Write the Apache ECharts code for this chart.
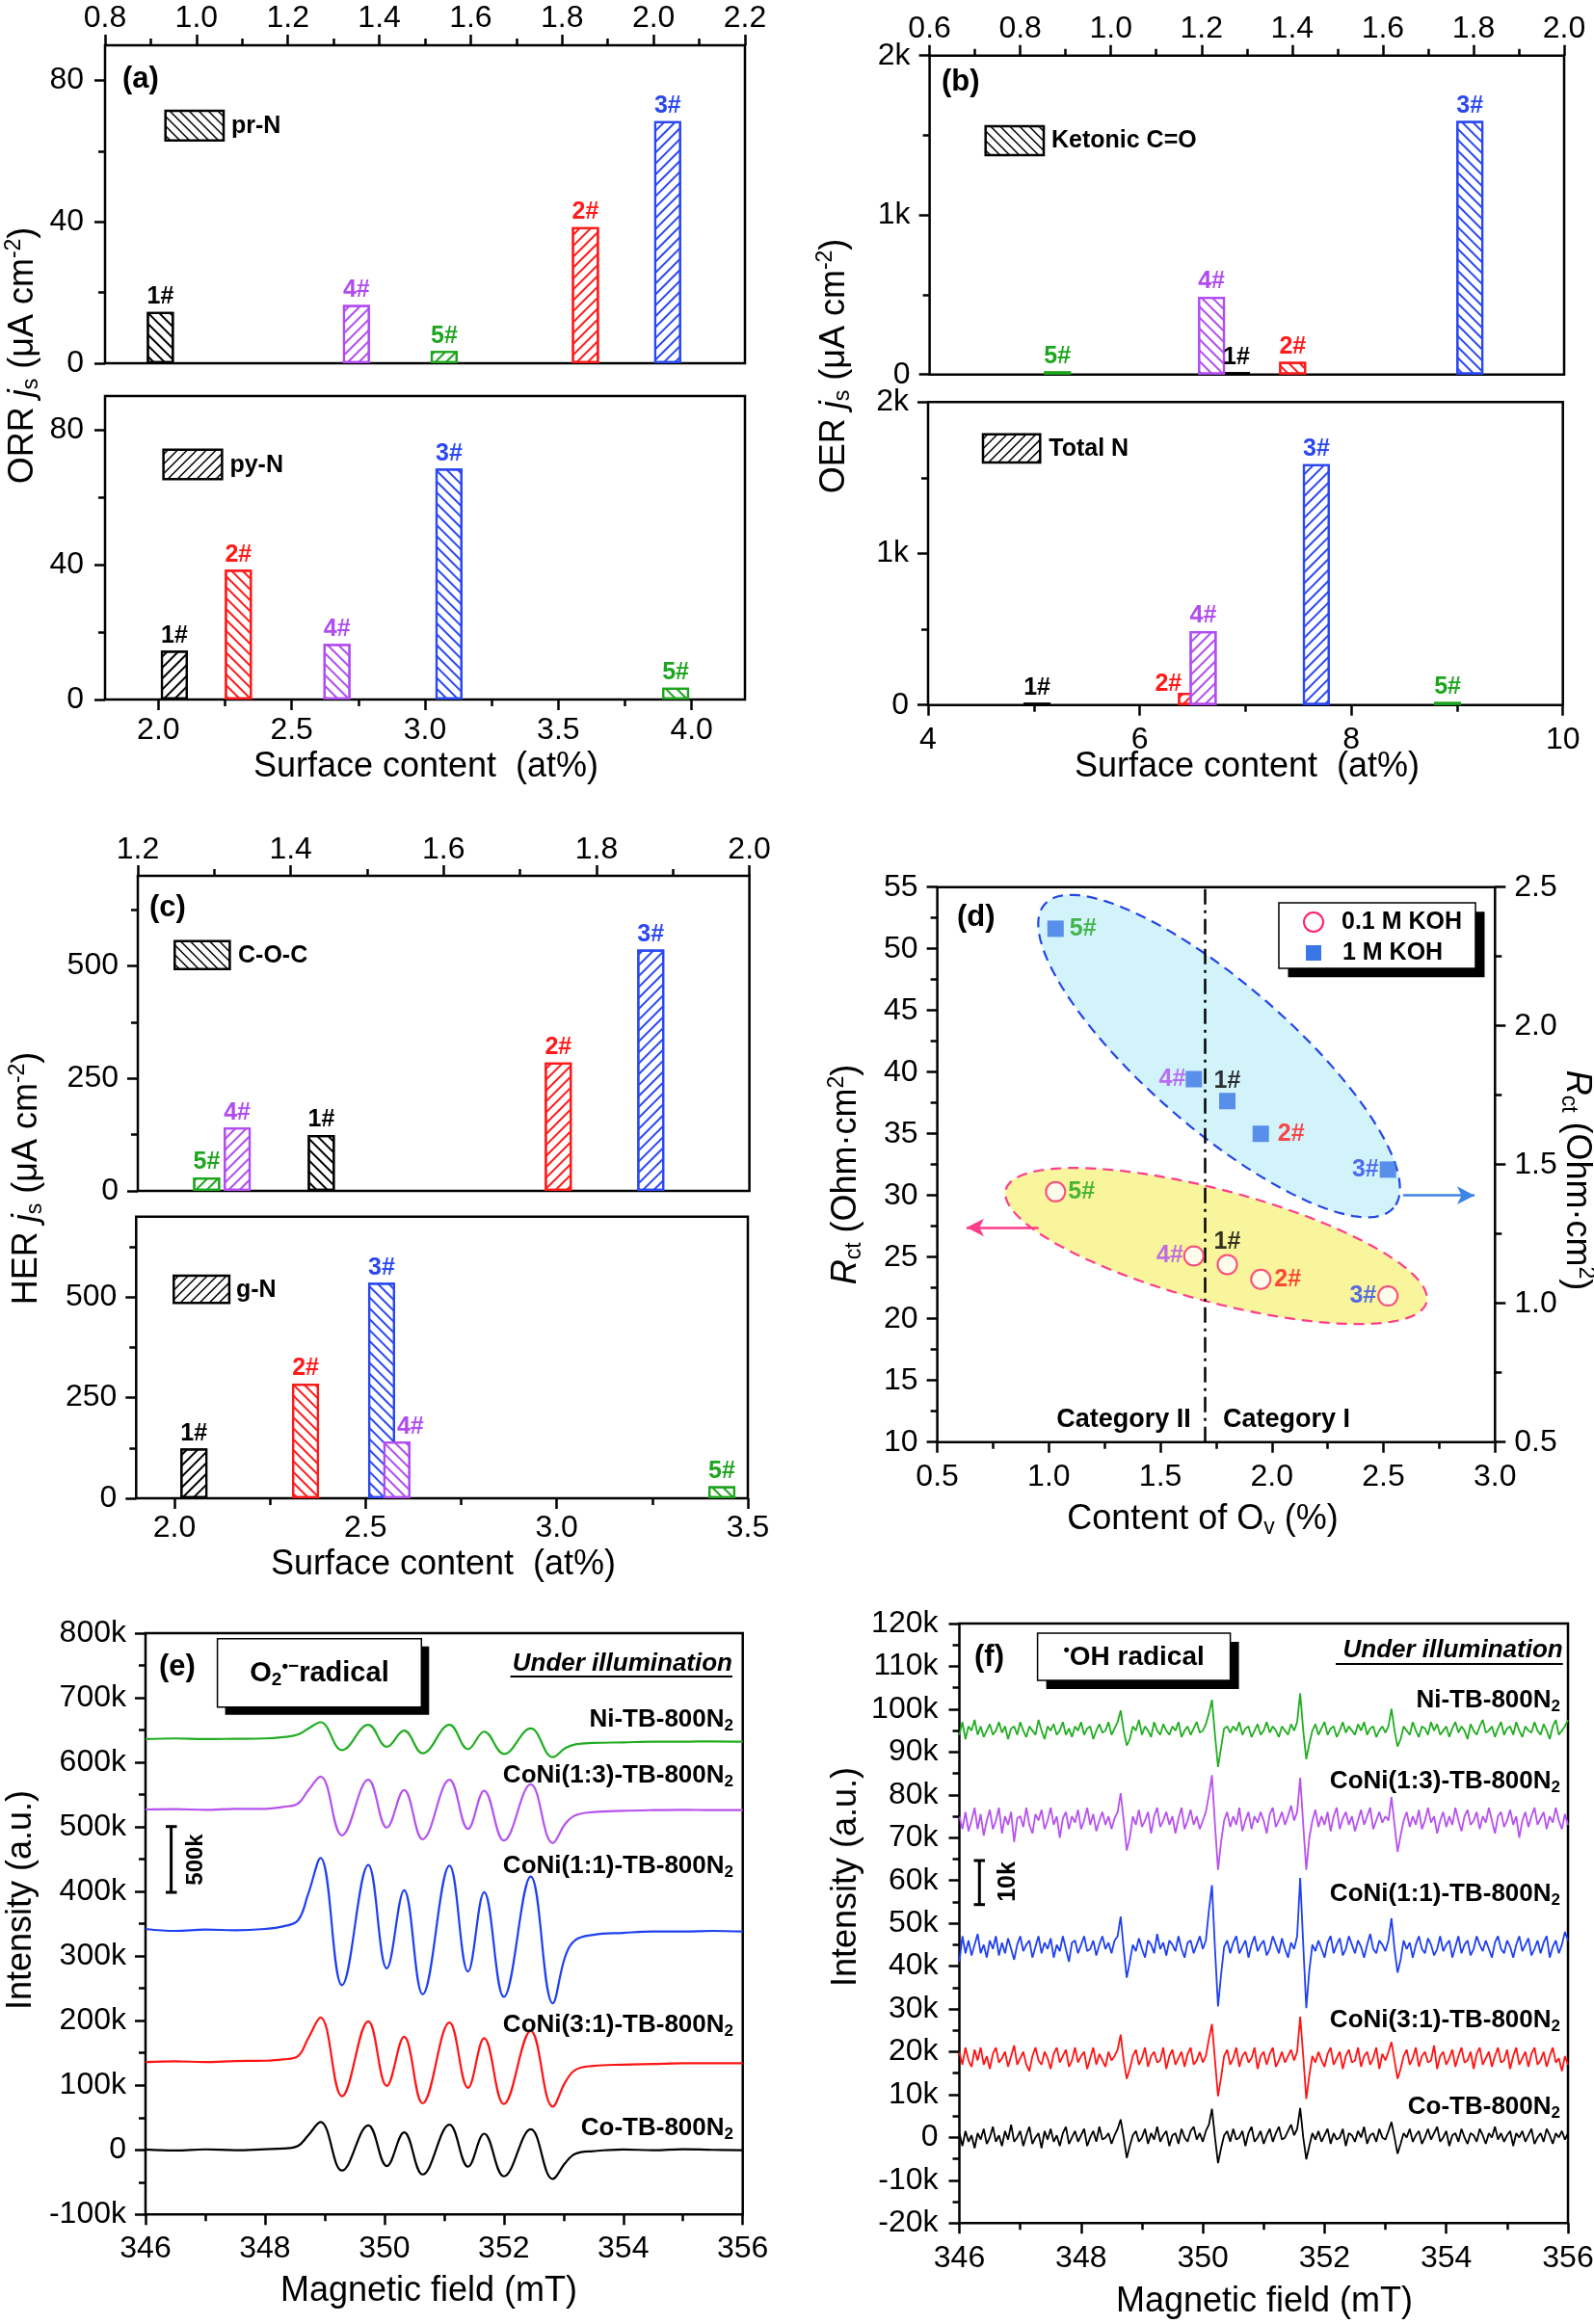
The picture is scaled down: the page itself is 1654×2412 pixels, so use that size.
<!DOCTYPE html>
<html><head><meta charset="utf-8">
<script src="https://cdn.jsdelivr.net/npm/echarts@6/dist/echarts.min.js"></script>
<style>html,body{margin:0;padding:0;background:#fff}#c{width:1654px;height:2412px}</style>
</head><body><div id="c"></div>
<script>
// ===================== DATA =====================
const SAMPLES = ['1#', '2#', '3#', '4#', '5#'];
// (a) ORR
const PRN_CONTENT = [0.921, 1.851, 2.031, 1.350, 1.542];
const PYN_CONTENT = [2.06, 2.30, 3.09, 2.67, 3.94];
const ORR_JS = [14.5, 38.5, 68.5, 16.5, 3.5];
// (b) OER
const KETO_CONTENT = [1.277, 1.401, 1.792, 1.222, 0.882];
const TOTN_CONTENT = [5.03, 6.49, 7.67, 6.60, 8.91];
const OER_JS = [15, 80, 1590, 488, 20];
// (c) HER
const COC_CONTENT = [1.440, 1.750, 1.871, 1.330, 1.290];
const GN_CONTENT = [2.051, 2.343, 2.542, 2.582, 3.432];
const HER_JS = [124, 285, 536, 141, 30];
// (d) Rct vs Ov
const OV_CONTENT = [1.80, 1.95, 2.52, 1.65, 1.03];
const RCT_01M = [24.4, 23.2, 21.85, 25.1, 30.3];
const RCT_1M = [1.729, 1.611, 1.482, 1.808, 2.35];
const OV_DIVIDER = 1.7;
// (e) O2- radical EPR (values in k)
const E_FIELD = [346, 346.5, 347, 347.5, 348, 348.3, 348.55, 348.72, 348.93, 349.29, 349.73, 350.04, 350.33, 350.64, 351.09, 351.40, 351.67, 352.0, 352.45, 352.82, 353.03, 353.2, 353.5, 354, 354.5, 355, 355.5, 356];
const E_NI = [636, 637, 636, 636.5, 637, 639, 643, 652, 662, 619, 658, 624, 649, 614, 658, 620.5, 647.5, 613, 652.5, 608, 622, 628, 630, 631, 632, 632, 632.5, 632];
const E_CONI13 = [527, 527.5, 526.5, 528, 528, 531, 536, 556, 578, 487, 573, 499, 557, 481, 573, 497, 556, 479, 566, 475, 505, 518, 523, 525, 526, 526.5, 526, 526];
const E_CONI11 = [342, 339, 341, 340, 342, 346, 355, 395, 452, 255, 441, 281, 402, 241, 440, 276, 399, 237, 423, 227, 300, 325, 333, 336, 338, 338, 339, 338];
const E_CONI31 = [136, 137, 136, 137.5, 138, 140, 145, 172, 205, 83, 199, 99, 175, 72, 197, 96, 173, 71, 184, 67, 105, 124, 130, 132, 133, 134, 134, 134];
const E_CO = [0.5, -1, 0.8, -0.5, 1, 2, 6, 22, 43, -32, 38, -25, 27, -38, 39, -26, 25, -41, 32, -45, -20, -6, -2, 0.5, -0.5, 1, 0, -0.5];
// (f) OH radical EPR (values in k)
const F_FIELD = [
346,346.05,346.1,346.15,346.2,346.25,346.3,346.35,346.4,346.45,346.5,346.55,346.6,346.65,346.7,346.75,346.8,346.85,346.9,346.95,
347,347.05,347.1,347.15,347.2,347.25,347.3,347.35,347.4,347.45,347.5,347.55,347.6,347.65,347.7,347.75,347.8,347.85,347.9,347.95,
348,348.05,348.1,348.15,348.2,348.25,348.3,348.35,348.4,348.45,348.5,348.55,348.6,348.65,348.7,348.75,348.8,348.85,348.9,348.95,
349,349.05,349.1,349.15,349.2,349.25,349.3,349.35,349.4,349.45,349.5,349.55,349.6,349.65,349.7,349.75,349.8,349.85,349.9,349.95,
350,350.05,350.1,350.15,350.2,350.25,350.3,350.35,350.4,350.45,350.5,350.55,350.6,350.65,350.7,350.75,350.8,350.85,350.9,350.95,
351,351.05,351.1,351.15,351.2,351.25,351.3,351.35,351.4,351.45,351.5,351.55,351.6,351.65,351.7,351.75,351.8,351.85,351.9,351.95,
352,352.05,352.1,352.15,352.2,352.25,352.3,352.35,352.4,352.45,352.5,352.55,352.6,352.65,352.7,352.75,352.8,352.85,352.9,352.95,
353,353.05,353.1,353.15,353.2,353.25,353.3,353.35,353.4,353.45,353.5,353.55,353.6,353.65,353.7,353.75,353.8,353.85,353.9,353.95,
354,354.05,354.1,354.15,354.2,354.25,354.3,354.35,354.4,354.45,354.5,354.55,354.6,354.65,354.7,354.75,354.8,354.85,354.9,354.95,
355,355.05,355.1,355.15,355.2,355.25,355.3,355.35,355.4,355.45,355.5,355.55,355.6,355.65,355.7,355.75,355.8,355.85,355.9,355.95,
356];
const F_NI = [
94,97,93,96,95,97.5,94,96,93.5,95, 96.5,94,95,97,94.5,96,93,95.5,96,94,
97,95,93.5,96,95,94,97.5,95,93,96, 95,96.5,94,95,97,94,95.5,93.5,96,95,
97,94,95.5,96,93,95,96.5,94.5,95,97, 94,95.5,97,99.7,95,91.5,93,96,95,97.5,
94,96,95,93.5,97,95,94,96.5,95,94, 96,95,97,93.5,95,96,94,95.5,97,94.5,
95,96.5,99,102.2,94,86.5,91,95.5,96,94.5, 96,95,97,94,95.5,96,93.5,95,96.5,94,
95,97,94.5,96,95,93.5,96,95,94,96.5, 95,97,103.7,95,88.3,92,95,96.5,94,95.5,
97,94,95.5,96,93.5,95,97,94.5,96,95, 94,96.5,95,97,94,95.5,96,93.5,95,96,
94.5,96,100.1,95,91.3,93,96,95,94,97, 95,93.5,96,95.5,94,97,95,96.5,94,95,
96,93.5,95.5,97,94.5,96,95,93,96.5,95, 94,96,97.5,94.5,95,96,93.5,95.5,97,94,
95.5,96,94,97,95,93.5,96,95,94.5,97, 95,94,96.5,95,93,96,97.5,94,95,96,
97.5];
const F_CONI13 = [
75,72,76,71.5,74,77,72,75.5,70.5,74, 76.5,72,74,77,71,75,73,76,69,74.5,
75,72.5,77,73,71,75.5,74,76.5,72,74, 77,73,75,70,74.5,76,72,75,73.5,76.5,
72,74,77,73,75.5,71.5,74,76,73,75, 72,74.5,76,80.4,74,67,70,75,73,76.5,
72.5,74,76,71,75,77,72.5,74,76,73, 75,71,74.5,77,72,74,76.5,73,75,72,
74,76,80,84.6,73,62.5,69,74,76,72.5, 75,73,77,71.5,74,76,72,75,73.5,76,
74,71,75.5,77,72.5,74,76,73,75,77.5, 74,76,84,73,62.5,70,74,76.5,72.5,75,
73,76,71.5,75,77,72,74.5,76,73,75, 71.5,74,76.5,73,75,77,72,74,76,73.5,
75,74,79.5,73,66.7,70.5,74,76,72.5,75, 73,76.5,72,74,77,73.5,75,71,74,76,
72.5,75,73,77,74,71.5,75,76.5,73,74, 76,72,75,73.5,77,74,71,75,76,72.5,
74,76.5,73,75,70,74,76,72.5,75,77, 73,74.5,76,72,75,73.5,77,74,72,75.5,
73];
const F_CONI11 = [
41,47,43,46,42.5,45,47.5,43,45,42, 46,44,47,42.5,45.5,43,46.5,44,41.5,45,
47,43.5,45,46,42,44.5,47,43,45.5,44, 46.5,42,45,43.5,47,44,41,45.5,46,43,
45,47,43.5,44,46,42.5,45,47,44,45.5, 43,46,47,51.6,44,37.3,41,45,43.5,46.5,
44,42,46,45,43,47.5,44,45.5,42.5,46, 45,43.5,47,44,42,45.5,46,43,45,47,
44,46,53,58.9,44,30.6,38,44.5,46,43, 45.5,47,43,44.5,46,42,45,47,43.5,45,
46,42.5,44,47,45,43,46.5,44,42,45.5, 44,47,60.6,45,30.2,39,45,43.5,46,44,
42,45.5,47,43,45,46.5,42.5,44,47,45, 43,46,44.5,42,45,47.5,44,43,46,45,
43.5,46,51.2,44,38.5,41.5,46,44,45.5,42, 45,47,44,43,46.5,45,42.5,44,47,43.5,
45,46,42,44.5,47,43,45,46,42.5,44, 47,45,43.5,46,44,42,45.5,47,44,43,
46,44.5,42,45,47,43.5,45,46.5,42.5,44, 46,43,45.5,47,42,44.5,46,43,45,48,
46];
const F_CONI31 = [
20,17,21,18,16.5,20.5,18,21,17,19, 16,19.5,21,17.5,18.5,20,16.5,19,21.5,17,
18.5,20,17,15.5,19,21,18,17,20,18.5, 16,19.5,21,17.5,19,20.5,16.5,18,21,17.5,
19,20,16,18.5,21,17,19.5,18,16.5,20, 18,19,20.5,24,18,13.7,16,19,20.5,17,
18.5,21,16.5,19,20,17.5,18,21,16,19, 20.5,17,18.5,20,16.5,19.5,21,17,18,20,
17.5,19,23,26.5,18,9.6,14,19,20.5,17, 18.5,21,16.5,19,20,17.5,18.5,21,16,19,
20,17,19.5,21,16.5,18,20,17.5,19,20.5, 18,20,28.2,19,9,14.5,19,17.5,20,18,
16.5,19.5,21,17,18.5,20,16,19,20.5,17.5, 18,21,16.5,19,20,17,18.5,21,16,19.5,
18,20,22.3,18,13.7,16,19,20.5,17,18.5, 21,16.5,19,20,17.5,18,21.5,16,19,20,
17,18.5,20.5,16.5,19,21,17.5,18,20,16, 19.5,21,17,18.5,20,16.5,19,21,17.5,18,
20.5,16,19,21,17,18.5,20,16.5,19.5,21, 17,18,20,16.5,19,21,17.5,18.5,15.5,19,
17];
const F_CO = [
1,-2,1.5,-1,0.5,-2.5,1,-0.5,2,-1.5, 0,2.5,-1,0.5,-2,1.5,-0.5,3,-1,0,
1.5,-2,0.5,2.5,-1.5,0,1,-2.5,1.5,-0.5, 2,-1,0.5,-2,1,2.5,-1.5,0,1.5,-1,
0.5,2,-2,0,1.5,-1,2.5,-0.5,0,1, -1.5,0.5,2,4.2,0,-4.8,-2,0.5,1.5,-1,
0,2,-1.5,1,-0.5,2.5,-1,0.5,1.5,-2, 0.5,1,-1.5,2,0,-1,1.5,2.5,-0.5,1,
-1,1.5,3,6.7,0,-6,-2.5,0.5,1.5,-1, 2,-0.5,0,1.5,-2,1,2.5,-1,0,1.5,
-1.5,0.5,2,-1,1,2.5,-0.5,0,1.5,3, 0.5,2,6.9,0,-5.1,-2,1,-0.5,1.5,-1,
0.5,2,-1.5,1,-0.5,0,2,-2,1,0.5, -1,1.5,0,2.5,-1.5,0.5,1,-1,2,0,
-0.5,1.5,3.6,0,-3.8,-1.5,1,0,2,-1, 0.5,1.5,-1.5,0,2,-0.5,1,2.5,-1,0,
1.5,-2,0.5,1,-1,2,0,-1.5,1,0.5, -1,2,0.5,-1.5,1,0,2.5,-0.5,1,-1,
0.5,1.5,-2,1,0,1.5,-1,0.5,2,-1.5, 0,1,-1,2,0.5,-1.5,1,0,1.5,-0.5,
1];
// tick values
const A_TOP_TICKS = [0.8, 1.0, 1.2, 1.4, 1.6, 1.8, 2.0, 2.2];
const A_TOP_MINOR = [0.9, 1.1, 1.3, 1.5, 1.7, 1.9, 2.1];
const A_BOT_TICKS = [2.0, 2.5, 3.0, 3.5, 4.0];
const A_BOT_MINOR = [2.25, 2.75, 3.25, 3.75];
const ORR_TICKS = [0, 40, 80];
const ORR_MINOR = [20, 60];
const B_TOP_TICKS = [0.6, 0.8, 1.0, 1.2, 1.4, 1.6, 1.8, 2.0];
const B_TOP_MINOR = [0.7, 0.9, 1.1, 1.3, 1.5, 1.7, 1.9];
const B_BOT_TICKS = [4, 6, 8, 10];
const B_BOT_MINOR = [5, 7, 9];
const OER_TICKS = [0, 1000, 2000];
const OER_MINOR = [500, 1500];
const C_TOP_TICKS = [1.2, 1.4, 1.6, 1.8, 2.0];
const C_TOP_MINOR = [1.3, 1.5, 1.7, 1.9];
const C_BOT_TICKS = [2.0, 2.5, 3.0, 3.5];
const C_BOT_MINOR = [2.25, 2.75, 3.25];
const HER_TICKS = [0, 250, 500];
const HER_MINOR = [125, 375, 625];
const D_X_TICKS = [0.5, 1.0, 1.5, 2.0, 2.5, 3.0];
const D_X_MINOR = [0.75, 1.25, 1.75, 2.25, 2.75];
const D_YL_TICKS = [10, 15, 20, 25, 30, 35, 40, 45, 50, 55];
const D_YL_MINOR = [12.5, 17.5, 22.5, 27.5, 32.5, 37.5, 42.5, 47.5, 52.5];
const D_YR_TICKS = [0.5, 1.0, 1.5, 2.0, 2.5];
const D_YR_MINOR = [0.75, 1.25, 1.75, 2.25];
const FIELD_TICKS = [346, 348, 350, 352, 354, 356];
const FIELD_MINOR = [347, 349, 351, 353, 355];
const E_Y_TICKS = [-100, 0, 100, 200, 300, 400, 500, 600, 700, 800];
const E_Y_MINOR = [-50, 50, 150, 250, 350, 450, 550, 650, 750];
const F_Y_TICKS = [-20, -10, 0, 10, 20, 30, 40, 50, 60, 70, 80, 90, 100, 110, 120];
const F_Y_MINOR = [-15, -5, 5, 15, 25, 35, 45, 55, 65, 75, 85, 95, 105, 115];

// ===================== STYLE =====================
const FONT = '"Liberation Sans", Arial, Helvetica, sans-serif';
const COL = ['#000000', '#ff1a1a', '#2a48f2', '#b14cf0', '#1ea51e'];
const EPR_COL = {ni: '#22ad22', coni13: '#b652ee', coni11: '#1f40f2', coni31: '#ff1414', co: '#000000'};
const ROT_BACK = Math.PI / 4, ROT_SLASH = -Math.PI / 4;
const HATCH = {
  a1: ['\\', '/', '/', '/', '/'], a2: ['/', '\\', '\\', '\\', '\\'],
  b1: ['\\', '\\', '\\', '\\', '\\'], b2: ['/', '/', '/', '/', '/'],
  c1: ['\\', '/', '/', '/', '/'], c2: ['/', '\\', '\\', '\\', '\\']
};

const fmt1 = v => Number(v).toFixed(1);
const fmtInt = v => String(Math.round(v));
const fmtK = v => v === 0 ? '0' : v + 'k';
const fmtKilo = v => v === 0 ? '0' : (v / 1000) + 'k';

const grids = [
  {left: 109, top: 47, width: 664, height: 330},
  {left: 109, top: 411, width: 664, height: 315},
  {left: 964.6, top: 57.7, width: 658.4, height: 331},
  {left: 963, top: 417.3, width: 658.7, height: 314.4},
  {left: 143, top: 909, width: 634.6, height: 327},
  {left: 141.3, top: 1262.7, width: 634.7, height: 292.3},
  {left: 972.6, top: 920.7, width: 578.7, height: 576},
  {left: 151, top: 1695, width: 619.7, height: 603.3},
  {left: 995.5, top: 1685, width: 631.5, height: 622.3}
].map(g => Object.assign({show: true, borderColor: '#000', borderWidth: 2.5, backgroundColor: 'rgba(0,0,0,0)', containLabel: false, outerBoundsMode: 'none'}, g));

const xAxes = [], yAxes = [];
function addAxis(list, grid, o) {
  const base = {type: 'value', gridIndex: grid, position: o.pos, min: o.min, max: o.max,
    splitLine: {show: false}, splitArea: {show: false}, minorTick: {show: false},
    axisLine: {show: false, onZero: false}, z: 5};
  const main = Object.assign({}, base, {
    axisTick: {show: true, customValues: o.major, length: 11, inside: false, lineStyle: {color: '#000', width: 2.5}},
    axisLabel: {show: true, customValues: o.major, formatter: o.fmt, margin: o.margin, fontSize: 32, fontFamily: FONT, color: '#000'}
  });
  list.push(main);
  const idx = list.length - 1;
  if (o.minor) {
    list.push(Object.assign({}, base, {
      axisTick: {show: true, customValues: o.minor, length: 7, inside: false, lineStyle: {color: '#000', width: 2.5}},
      axisLabel: {show: false}
    }));
  }
  return idx;
}
const ORR_Y = {pos: 'left', min: 0, max: 90, major: ORR_TICKS, minor: ORR_MINOR, fmt: fmtInt, margin: 22};
const OER_Y = {pos: 'left', min: 0, max: 2000, major: OER_TICKS, minor: OER_MINOR, fmt: fmtKilo, margin: 20};
const HER_Y = {pos: 'left', min: 0, max: 700, major: HER_TICKS, minor: HER_MINOR, fmt: fmtInt, margin: 20};
const a1x = addAxis(xAxes, 0, {pos: 'top', min: 0.8, max: 2.2, major: A_TOP_TICKS, minor: A_TOP_MINOR, fmt: fmt1, margin: 12});
const a1y = addAxis(yAxes, 0, ORR_Y);
const a2x = addAxis(xAxes, 1, {pos: 'bottom', min: 1.8, max: 4.2, major: A_BOT_TICKS, minor: A_BOT_MINOR, fmt: fmt1, margin: 16});
const a2y = addAxis(yAxes, 1, ORR_Y);
const b1x = addAxis(xAxes, 2, {pos: 'top', min: 0.6, max: 2.0, major: B_TOP_TICKS, minor: B_TOP_MINOR, fmt: fmt1, margin: 12});
const b1y = addAxis(yAxes, 2, OER_Y);
const b2x = addAxis(xAxes, 3, {pos: 'bottom', min: 4, max: 10, major: B_BOT_TICKS, minor: B_BOT_MINOR, fmt: fmtInt, margin: 20});
const b2y = addAxis(yAxes, 3, OER_Y);
const c1x = addAxis(xAxes, 4, {pos: 'top', min: 1.2, max: 2.0, major: C_TOP_TICKS, minor: C_TOP_MINOR, fmt: fmt1, margin: 11});
const c1y = addAxis(yAxes, 4, HER_Y);
const c2x = addAxis(xAxes, 5, {pos: 'bottom', min: 1.9, max: 3.5, major: C_BOT_TICKS, minor: C_BOT_MINOR, fmt: fmt1, margin: 15});
const c2y = addAxis(yAxes, 5, HER_Y);
const dX = addAxis(xAxes, 6, {pos: 'bottom', min: 0.5, max: 3.0, major: D_X_TICKS, minor: D_X_MINOR, fmt: fmt1, margin: 20});
const dYL = addAxis(yAxes, 6, {pos: 'left', min: 10, max: 55, major: D_YL_TICKS, minor: D_YL_MINOR, fmt: fmtInt, margin: 20});
const dYR = addAxis(yAxes, 6, {pos: 'right', min: 0.5, max: 2.5, major: D_YR_TICKS, minor: D_YR_MINOR, fmt: fmt1, margin: 20});
const eX = addAxis(xAxes, 7, {pos: 'bottom', min: 346, max: 356, major: FIELD_TICKS, minor: FIELD_MINOR, fmt: fmtInt, margin: 20});
const eY = addAxis(yAxes, 7, {pos: 'left', min: -100, max: 800, major: E_Y_TICKS, minor: E_Y_MINOR, fmt: fmtK, margin: 20});
const fX = addAxis(xAxes, 8, {pos: 'bottom', min: 346, max: 356, major: FIELD_TICKS, minor: FIELD_MINOR, fmt: fmtInt, margin: 21});
const fY = addAxis(yAxes, 8, {pos: 'left', min: -20, max: 120, major: F_Y_TICKS, minor: F_Y_MINOR, fmt: fmtK, margin: 22});

// ===================== SERIES =====================
function barSeries(xi, yi, xs, ys, hatch, offsets) {
  return {
    type: 'bar', xAxisIndex: xi, yAxisIndex: yi, barWidth: 28, z: 3, animation: false,
    data: SAMPLES.map((s, k) => ({
      name: s, value: [xs[k], ys[k]],
      itemStyle: {color: '#ffffff', borderColor: COL[k], borderWidth: 2.2,
        decal: {symbol: 'rect', symbolSize: 1, dashArrayX: [1, 0], dashArrayY: [1.6, 5.4],
          rotation: hatch[k] === '/' ? ROT_SLASH : ROT_BACK, color: COL[k]}},
      label: {show: true, position: 'top', distance: 3, formatter: '{b}', color: COL[k],
        fontSize: 25, fontWeight: 'bold', fontFamily: FONT, offset: (offsets && offsets[k]) || [0, 0]}
    }))
  };
}
const series = [];
series.push(barSeries(a1x, a1y, PRN_CONTENT, ORR_JS, HATCH.a1));
series.push(barSeries(a2x, a2y, PYN_CONTENT, ORR_JS, HATCH.a2));
series.push(barSeries(b1x, b1y, KETO_CONTENT, OER_JS, HATCH.b1));
series.push(barSeries(b2x, b2y, TOTN_CONTENT, OER_JS, HATCH.b2, [null, [-24, 6], null, null, null]));
series.push(barSeries(c1x, c1y, COC_CONTENT, HER_JS, HATCH.c1));
series.push(barSeries(c2x, c2y, GN_CONTENT, HER_JS, HATCH.c2, [null, null, null, [14, 0], null]));

// (d) ellipse annotations (center in data units of left axis, radii in px)
const ELLIPSES = [
  {c: [1.763, 41.3], a: 240, b: 75, ang: 41, fill: '#d3f3fb', stroke: '#2346e6'},
  {c: [1.75, 25.9], a: 226, b: 58, ang: 15, fill: '#f8f59c', stroke: '#ff3d8b'}
];
series.push({
  type: 'custom', xAxisIndex: dX, yAxisIndex: dYL, z: 1, silent: true, animation: false, clip: false,
  data: ELLIPSES.map(e => e.c),
  renderItem: function (params, api) {
    const e = ELLIPSES[params.dataIndex];
    const ctr = api.coord([api.value(0), api.value(1)]);
    const th = e.ang * Math.PI / 180, pts = [];
    for (let k = 0; k < 120; k++) {
      const t = k / 120 * 2 * Math.PI;
      pts.push([ctr[0] + e.a * Math.cos(t) * Math.cos(th) - e.b * Math.sin(t) * Math.sin(th),
                ctr[1] + e.a * Math.cos(t) * Math.sin(th) + e.b * Math.sin(t) * Math.cos(th)]);
    }
    return {type: 'polygon', shape: {points: pts}, style: {fill: e.fill, stroke: e.stroke, lineWidth: 2.2, lineDash: [11, 7]}};
  }
});
const D_LABEL_POS = ['top', 'right', 'left', 'left', 'right'];
const D_LABEL_DIST_C = [0, 3, 1, 0, 2];
const D_LABEL_DIST_S = [0, 9, 1, 0, 6];
series.push({
  type: 'scatter', xAxisIndex: dX, yAxisIndex: dYL, symbol: 'circle', symbolSize: 20, z: 6, animation: false,
  itemStyle: {color: '#ffffff', borderColor: '#ff2066', borderWidth: 2},
  label: {show: true, formatter: '{b}', fontSize: 25, fontWeight: 'bold', fontFamily: FONT},
  data: SAMPLES.map((s, k) => ({name: s, value: [OV_CONTENT[k], RCT_01M[k]],
    label: {position: D_LABEL_POS[k], distance: D_LABEL_DIST_C[k], color: COL[k]}})),
  markLine: {silent: true, animation: false, symbol: ['none', 'none'], label: {show: false},
    data: [
      {xAxis: OV_DIVIDER, lineStyle: {type: [16, 6, 3, 6], color: '#000', width: 2.5}},
      [{coord: [0.954, 27.4], symbol: 'none', lineStyle: {color: '#ff3d8b', width: 2.5, type: 'solid'}},
       {coord: [0.631, 27.4], symbol: 'arrow', symbolSize: [14, 18], lineStyle: {color: '#ff3d8b', width: 2.5, type: 'solid'}}],
      [{coord: [2.588, 30.0], symbol: 'none', lineStyle: {color: '#3d84e6', width: 2.5, type: 'solid'}},
       {coord: [2.908, 30.0], symbol: 'arrow', symbolSize: [14, 18], lineStyle: {color: '#3d84e6', width: 2.5, type: 'solid'}}]
    ]}
});
series.push({
  type: 'scatter', xAxisIndex: dX, yAxisIndex: dYR, symbol: 'rect', symbolSize: 17, z: 6, animation: false,
  itemStyle: {color: '#3a76e6'},
  label: {show: true, formatter: '{b}', fontSize: 25, fontWeight: 'bold', fontFamily: FONT},
  data: SAMPLES.map((s, k) => ({name: s, value: [OV_CONTENT[k], RCT_1M[k]],
    label: {position: D_LABEL_POS[k], distance: D_LABEL_DIST_S[k], color: COL[k]}}))
});
// (e)
[[E_NI, EPR_COL.ni], [E_CONI13, EPR_COL.coni13], [E_CONI11, EPR_COL.coni11], [E_CONI31, EPR_COL.coni31], [E_CO, EPR_COL.co]].forEach(([vals, c]) => {
  series.push({type: 'line', xAxisIndex: eX, yAxisIndex: eY, symbol: 'none', smooth: 0.4, animation: false, z: 3,
    lineStyle: {color: c, width: 2.2}, data: E_FIELD.map((x, i) => [x, vals[i]])});
});
// (f)
[[F_NI, EPR_COL.ni], [F_CONI13, EPR_COL.coni13], [F_CONI11, EPR_COL.coni11], [F_CONI31, EPR_COL.coni31], [F_CO, EPR_COL.co]].forEach(([vals, c]) => {
  series.push({type: 'line', xAxisIndex: fX, yAxisIndex: fY, symbol: 'none', smooth: false, animation: false, z: 3,
    lineStyle: {color: c, width: 1.8}, data: F_FIELD.map((x, i) => [x, vals[i]])});
});

// ===================== ANNOTATIONS =====================
const G = [];
function rt(x, y, parts, o) {
  o = o || {};
  const size = o.size || 25, wt = o.weight || 'normal', st = o.style || 'normal', col = o.color || '#000';
  const small = Math.round(size * 0.65), lh = Math.round(size * 1.15);
  const mk = (extra) => Object.assign({fontSize: size, fontFamily: FONT, fontWeight: wt, fontStyle: st, fill: col, lineHeight: lh}, extra);
  const rich = {
    n: mk({}),
    i: mk({fontStyle: 'italic'}),
    s: mk({fontSize: small, lineHeight: Math.round(small * 0.5), verticalAlign: 'bottom'}),
    p: mk({fontSize: small, lineHeight: Math.round(small * 0.6), verticalAlign: 'top'})
  };
  const text = parts.map(p => '{' + p[1] + '|' + p[0] + '}').join('');
  const al = o.align || 'center';
  G.push({type: 'text', x: x, y: y, rotation: o.rot || 0, z: 100, silent: true,
    style: {text: text, rich: rich, fill: col, fontSize: size, fontFamily: FONT, fontWeight: wt, fontStyle: st,
      align: al, textAlign: al, verticalAlign: 'middle', textVerticalAlign: 'middle'}});
}
function ln(x1, y1, x2, y2, w, c) {
  G.push({type: 'line', z: 100, silent: true, shape: {x1, y1, x2, y2}, style: {stroke: c || '#000', lineWidth: w || 2}});
}
function rect(x, y, w, h, fill, stroke, lw) {
  G.push({type: 'rect', z: 99, silent: true, shape: {x, y, width: w, height: h}, style: {fill: fill, stroke: stroke || null, lineWidth: lw || 0}});
}
function hatchBox(x0, y0, w, h, dir) {
  rect(x0, y0, w, h, '#fff', null, 0);
  const sp = 10;
  if (dir === '/') {
    for (let c = x0 + y0 + sp / 2; c < x0 + w + y0 + h; c += sp) {
      const xa = Math.max(x0, c - (y0 + h)), xb = Math.min(x0 + w, c - y0);
      if (xb > xa) ln(xa, c - xa, xb, c - xb, 1.5);
    }
  } else {
    for (let c = x0 - (y0 + h) + sp / 2; c < x0 + w - y0; c += sp) {
      const xa = Math.max(x0, c + y0), xb = Math.min(x0 + w, c + y0 + h);
      if (xb > xa) ln(xa, xa - c, xb, xb - c, 1.5);
    }
  }
  G.push({type: 'rect', z: 101, silent: true, shape: {x: x0, y: y0, width: w, height: h}, style: {fill: null, stroke: '#000', lineWidth: 2.5}});
}
// panel letters
rt(127, 82, [['(a)', 'n']], {size: 31, weight: 'bold', align: 'left'});
rt(977, 85, [['(b)', 'n']], {size: 31, weight: 'bold', align: 'left'});
rt(155, 942, [['(c)', 'n']], {size: 31, weight: 'bold', align: 'left'});
rt(993, 952, [['(d)', 'n']], {size: 31, weight: 'bold', align: 'left'});
rt(165, 1730, [['(e)', 'n']], {size: 31, weight: 'bold', align: 'left'});
rt(1011, 1720, [['(f)', 'n']], {size: 31, weight: 'bold', align: 'left'});
// bar legends
hatchBox(171.7, 115, 60.3, 30.7, '\\'); rt(240, 131, [['pr-N', 'n']], {size: 25, weight: 'bold', align: 'left'});
hatchBox(169.6, 466.7, 60.8, 30.6, '/'); rt(238.4, 482.7, [['py-N', 'n']], {size: 25, weight: 'bold', align: 'left'});
hatchBox(1022.7, 131, 60.3, 30, '\\'); rt(1091, 146, [['Ketonic C=O', 'n']], {size: 25, weight: 'bold', align: 'left'});
hatchBox(1020, 450.7, 59.3, 29.3, '/'); rt(1088.3, 466, [['Total N', 'n']], {size: 25, weight: 'bold', align: 'left'});
hatchBox(181.3, 976.7, 57.1, 29, '\\'); rt(247, 991.7, [['C-O-C', 'n']], {size: 25, weight: 'bold', align: 'left'});
hatchBox(180.3, 1324, 57.6, 28.3, '/'); rt(245, 1339, [['g-N', 'n']], {size: 25, weight: 'bold', align: 'left'});
// axis names
const JS = (lab) => [[lab + ' ', 'n'], ['j', 'i'], ['s', 's'], [' (μA cm', 'n'], ['-2', 'p'], [')', 'n']];
rt(24, 369, JS('ORR'), {size: 36, rot: Math.PI / 2});
rt(866, 380, JS('OER'), {size: 36, rot: Math.PI / 2});
rt(28, 1223, JS('HER'), {size: 36, rot: Math.PI / 2});
rt(442, 796, [['Surface content  (at%)', 'n']], {size: 36});
rt(1294, 796, [['Surface content  (at%)', 'n']], {size: 36});
rt(460, 1624, [['Surface content  (at%)', 'n']], {size: 36});
rt(1248, 1577, [['Content of O', 'n'], ['v', 's'], [' (%)', 'n']], {size: 36});
const RCT = [['R', 'i'], ['ct', 's'], [' (Ohm·cm', 'n'], ['2', 'p'], [')', 'n']];
rt(878, 1219, RCT, {size: 36, rot: Math.PI / 2});
rt(1636, 1225, RCT, {size: 36, rot: -Math.PI / 2});
rt(445, 2378, [['Magnetic field (mT)', 'n']], {size: 36});
rt(1312, 2389, [['Magnetic field (mT)', 'n']], {size: 36});
rt(22, 1972, [['Intensity (a.u.)', 'n']], {size: 36, rot: Math.PI / 2});
rt(878, 1948, [['Intensity (a.u.)', 'n']], {size: 36, rot: Math.PI / 2});
// (d) legend + categories
rect(1336.5, 946.3, 204, 68, '#000');
rect(1327, 937, 204, 68, '#fff', '#000', 1.5);
G.push({type: 'circle', z: 101, silent: true, shape: {cx: 1363, cy: 957, r: 10}, style: {fill: '#fff', stroke: '#ff2066', lineWidth: 2}});
G.push({type: 'rect', z: 101, silent: true, shape: {x: 1355, y: 981, width: 16, height: 16}, style: {fill: '#3a76e6'}});
rt(1392, 957, [['0.1 M KOH', 'n']], {size: 25, weight: 'bold', align: 'left'});
rt(1393, 989, [['1 M KOH', 'n']], {size: 25, weight: 'bold', align: 'left'});
rt(1166, 1474, [['Category II', 'n']], {size: 27, weight: 'bold'});
rt(1335, 1474, [['Category I', 'n']], {size: 27, weight: 'bold'});
// (e) annotations
rect(233.6, 1708.7, 211.7, 71, '#000');
rect(225.6, 1700.7, 211.7, 71, '#fff', '#000', 1.5);
rt(331.5, 1737, [['O', 'n'], ['2', 's'], ['•−', 'p'], ['radical', 'n']], {size: 29, weight: 'bold'});
rt(760, 1726.7, [['Under illumination', 'n']], {size: 26, weight: 'bold', style: 'italic', align: 'right'});
ln(529.6, 1740, 760, 1740, 2.2);
const N2 = (t) => [[t, 'n'], ['2', 's']];
const E_LAB = {size: 26, weight: 'bold', align: 'right'};
rt(761, 1785, N2('Ni-TB-800N'), E_LAB);
rt(761, 1843, N2('CoNi(1:3)-TB-800N'), E_LAB);
rt(761, 1937, N2('CoNi(1:1)-TB-800N'), E_LAB);
rt(761, 2102, N2('CoNi(3:1)-TB-800N'), E_LAB);
rt(761, 2209, N2('Co-TB-800N'), E_LAB);
ln(177.6, 1895.7, 177.6, 1964, 3); ln(172, 1895.7, 183.5, 1895.7, 3); ln(172, 1964, 183.5, 1964, 3);
rt(203, 1930, [['500k', 'n']], {size: 24, weight: 'bold', rot: Math.PI / 2});
// (f) annotations
rect(1085.6, 1704, 200, 49, '#000');
rect(1076.6, 1695, 200, 49, '#fff', '#000', 1.5);
rt(1176.6, 1720, [['•', 'p'], ['OH radical', 'n']], {size: 28, weight: 'bold'});
rt(1621.7, 1713.3, [['Under illumination', 'n']], {size: 26, weight: 'bold', style: 'italic', align: 'right'});
ln(1386, 1727, 1621.7, 1727, 2.2);
rt(1619, 1765, N2('Ni-TB-800N'), E_LAB);
rt(1619, 1849, N2('CoNi(1:3)-TB-800N'), E_LAB);
rt(1619, 1966, N2('CoNi(1:1)-TB-800N'), E_LAB);
rt(1619, 2097, N2('CoNi(3:1)-TB-800N'), E_LAB);
rt(1619, 2187, N2('Co-TB-800N'), E_LAB);
ln(1016.3, 1931, 1016.3, 1976.7, 3); ln(1010.5, 1931, 1022, 1931, 3); ln(1010.5, 1976.7, 1022, 1976.7, 3);
rt(1046, 1953, [['10k', 'n']], {size: 25, weight: 'bold', rot: Math.PI / 2});

// ===================== RENDER =====================
const chart = echarts.init(document.getElementById('c'), null, {renderer: 'canvas'});
chart.setOption({
  animation: false,
  backgroundColor: '#ffffff',
  textStyle: {fontFamily: FONT},
  grid: grids,
  xAxis: xAxes,
  yAxis: yAxes,
  series: series,
  graphic: {elements: G}
});
</script></body></html>
